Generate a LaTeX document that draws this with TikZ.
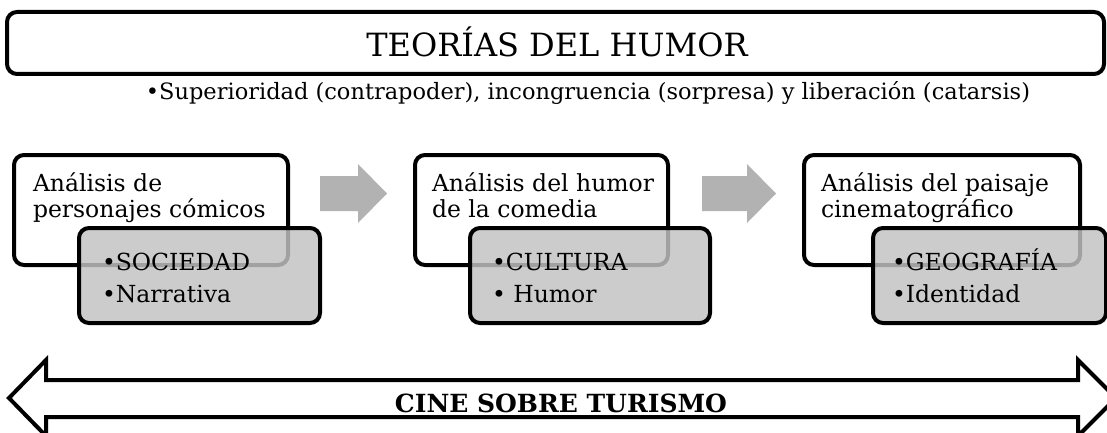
\documentclass[tikz,border=0pt]{standalone}
\usepackage{fontspec}
\setmainfont{DejaVu Serif}
\usetikzlibrary{positioning}
\def\size#1#2{\fontsize{#1}{#2}\selectfont}

\begin{document}
\begin{tikzpicture}[x=1pt,y=-1pt,line width=4pt,inner sep=0pt]
	\tikzstyle{box}=[draw,fill=white,rounded corners=10pt]
	\tikzstyle{grey}=[draw,fill=black!24,fill opacity=0.83,rounded corners=10pt]
	\tikzstyle{txt}=[anchor=base west,align=left,text opacity=1]
	\tikzstyle{garrow}=[fill=black!30,draw=none]

	\useasboundingbox (0,0) rectangle (1107,433);

	% title
	\node[box,minimum width=1097pt,minimum height=62pt] (T) at (555.5,43) {};
	\node[anchor=base,font=\size{32}{40}] (TT) at (557,57) {TEORÍAS DEL HUMOR};
	\node[anchor=base,font=\size{22.5}{27}] (S) at (588,100)
		{•Superioridad (contrapoder), incongruencia (sorpresa) y liberación (catarsis)};

	% white boxes
	\node[box,minimum width=274pt,minimum height=110pt] (B1) at (151,210) {};
	\node[box,minimum width=253pt,minimum height=110pt] (B2) at (541.5,210) {};
	\node[box,minimum width=276pt,minimum height=110pt] (B3) at (942,210) {};
	\node[txt,font=\size{23.5}{26}] (A1) at (31,217) {Análisis de\\personajes cómicos};
	\node[txt,font=\size{23.5}{26}] (A2) at (430,217) {Análisis del humor\\de la comedia};
	\node[txt,font=\size{23.5}{26}] (A3) at (819,217) {Análisis del paisaje\\cinematográfico};

	% grey boxes
	\node[grey,minimum width=241pt,minimum height=95pt] (G1) at (199.5,275.5) {};
	\node[grey,minimum width=240pt,minimum height=95pt] (G2) at (590,275.5) {};
	\node[grey,minimum width=233pt,minimum height=95pt] (G3) at (989.5,275.5) {};
	\node[txt,font=\size{23.5}{32}] (L1) at (100,302) {•SOCIEDAD\\•Narrativa};
	\node[txt,font=\size{23.5}{32}] (L2) at (490,302) {•CULTURA\\• Humor};
	\node[txt,font=\size{23.5}{32}] (L3) at (890,302) {•GEOGRAFÍA\\•Identidad};

	% grey arrows
	\fill[garrow] (320,176) -- (358,176) -- (358,164) -- (387,193.5) -- (358,223) -- (358,211) -- (320,211) -- cycle;
	\fill[garrow] (702,176) -- (747,176) -- (747,164) -- (776,193.5) -- (747,223) -- (747,211) -- (702,211) -- cycle;

	% double arrow
	\draw[fill=white,line join=miter] (9,398) -- (46,360) -- (46,380) -- (1078,380) -- (1078,360) -- (1116,398)
		-- (1078,436) -- (1078,417) -- (46,417) -- (46,436) -- cycle;
	\node[anchor=base,font=\bfseries\size{25}{30}] (C) at (561,412) {CINE SOBRE TURISMO};
\end{tikzpicture}
\end{document}
